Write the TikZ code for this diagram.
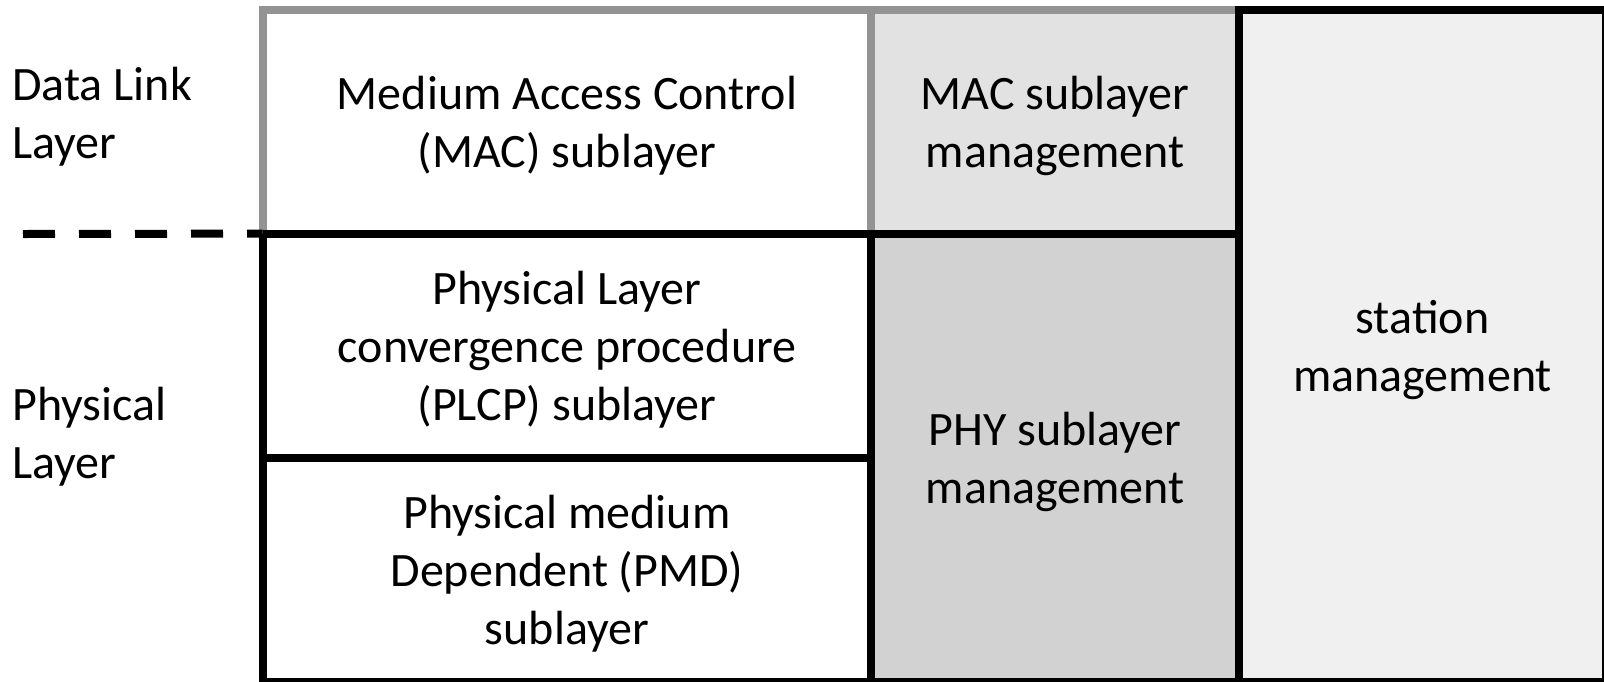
\documentclass[tikz,border=0pt]{standalone}
\usepackage{fontspec}
\setmainfont{Carlito}
\definecolor{edgegray}{HTML}{939393}
\definecolor{macgray}{HTML}{E2E2E2}
\definecolor{phygray}{HTML}{D2D2D2}
\definecolor{stagray}{HTML}{F0F0F0}
\begin{document}
\begin{tikzpicture}[x=0.5pt,y=-0.5pt,every node/.style={inner sep=0pt,text depth=0pt,align=center,font=\fontsize{24}{29}\selectfont},
  thick line/.style={line width=4pt},layerbox/.style={text depth=-1.5pt}]
\useasboundingbox (0,0) rectangle (1604,681);

\node[layerbox,fill=white  ,minimum width=304pt  ,minimum height=112pt] (mac)  at (567,122)    {Medium Access Control\\(MAC) sublayer};
\node[layerbox,fill=macgray,minimum width=184pt  ,minimum height=112pt] (macm) at (1055,122)   {MAC sublayer\\management};
\node[layerbox,fill=white  ,minimum width=304pt  ,minimum height=112pt] (plcp) at (567,346)    {Physical Layer\\convergence procedure\\(PLCP) sublayer};
\node[layerbox,fill=white  ,minimum width=304pt  ,minimum height=112pt] (pmd)  at (567,570)    {Physical medium\\Dependent (PMD)\\sublayer};
\node[layerbox,fill=phygray,minimum width=184pt  ,minimum height=224pt] (phym) at (1055,458)   {PHY sublayer\\management};
\node[layerbox,fill=stagray,minimum width=183.5pt,minimum height=336pt] (stat) at (1422.5,346) {station\\management};

\node[anchor=west,align=left] (dll) at (12,113) {Data Link\\Layer};
\node[anchor=west,align=left] (phl) at (12,433) {Physical\\Layer};

% grey edges of the MAC part
\draw[thick line,edgegray] (mac.south west) -- (mac.north west) -- (macm.north east);
\draw[thick line,edgegray] (macm.north west) -- (macm.south west);

% black edges
\draw[thick line] (stat.north west) rectangle (stat.south east);
\draw[thick line] (plcp.north west) -- (phym.north east);
\draw[thick line] (plcp.north west) -- (pmd.south west) -- (stat.south west);
\draw[thick line] (plcp.north east) -- (pmd.south east);
\draw[thick line] (plcp.south west) -- (plcp.south east);

\coordinate (dashstart) at (23,234);
\draw[thick line,dash pattern=on 16pt off 12pt] (dashstart) -- (plcp.north west);
\end{tikzpicture}
\end{document}
